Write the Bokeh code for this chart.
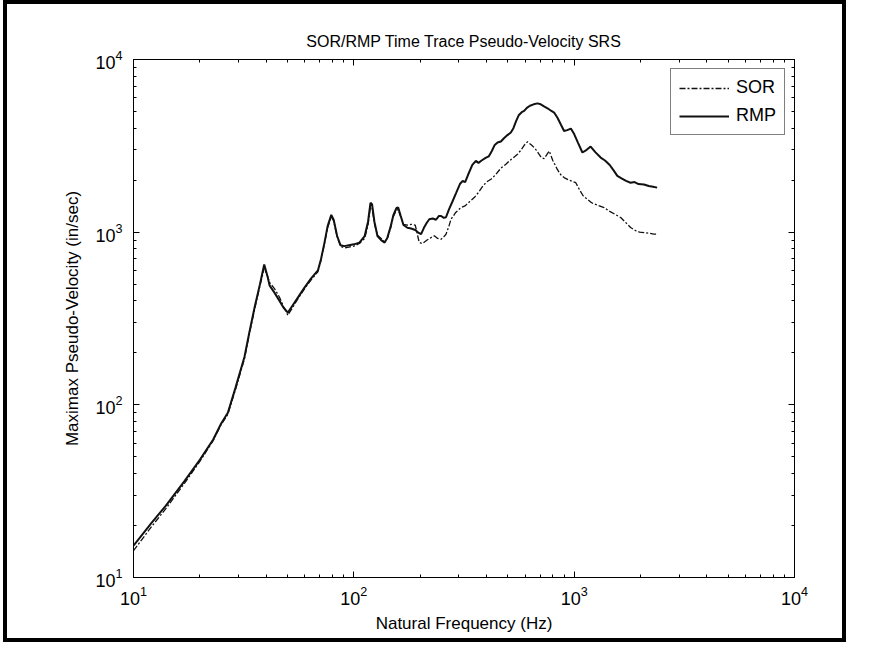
from bokeh.plotting import figure
from bokeh.models import Range1d, LogAxis, LogTicker, Legend, LegendItem
from bokeh.embed import file_html
from bokeh.resources import INLINE

# ---- data ----
rmp_freq = [10, 12, 14, 17, 20, 23, 25, 26.8, 29, 31.9, 33.5, 35.5, 37.5, 39.2, 40.5, 41.5, 43.7, 46, 48, 50.2,
            53, 55.7, 59.7, 64, 68.7, 71, 73.6, 76, 79, 81, 84, 87, 90.6, 95, 100, 106, 112, 116, 119, 121,
            124, 128, 133, 138, 142, 147, 151, 156, 159, 163, 168, 175, 182, 190, 197, 202, 208, 214, 220, 228,
            236, 243, 249, 256, 262, 270, 280, 292, 303, 312, 320, 330, 345, 358, 368, 380, 398, 410, 423, 436,
            449, 465, 480, 498, 516, 530, 545, 560, 578, 593, 610, 630, 655, 682, 705, 730, 760, 785, 811, 840,
            870, 900, 930, 966, 1000, 1040, 1090, 1140, 1188, 1250, 1319, 1380, 1450, 1510, 1570, 1640, 1720,
            1803, 1880, 1960, 2074, 2180, 2280, 2380]
rmp_vel = [15.3, 20.5, 26, 36, 48, 63, 78, 90, 125, 190, 260, 370, 500, 650, 560, 490, 445, 400, 365, 342,
           380, 418, 477, 540, 600, 700, 870, 1080, 1260, 1180, 950, 840, 830, 840, 850, 870, 950, 1150, 1480, 1450,
           1150, 950, 900, 870, 930, 1080, 1250, 1380, 1390, 1250, 1100, 1060, 1050, 1030, 990, 973, 1060, 1130, 1188, 1200,
           1180, 1240, 1241, 1210, 1220, 1350, 1500, 1700, 1900, 1982, 1950, 2150, 2450, 2588, 2520, 2600, 2700, 2750, 2950, 3200,
           3304, 3350, 3500, 3650, 3777, 4000, 4400, 4750, 4950, 5036, 5250, 5400, 5500, 5570, 5500, 5350, 5200, 5050, 4931, 4600,
           4200, 3856, 3900, 3981, 3700, 3300, 2893, 3000, 3133, 2900, 2704, 2600, 2450, 2280, 2118, 2050, 1980,
           1934, 1950, 1900, 1890, 1850, 1830, 1811]

sor_freq = [10, 12, 14, 17, 20, 23, 25, 26.8, 29, 31.9, 33.5, 35.5, 37.5, 39.2, 40.5, 41.5, 43.7, 46, 48, 50.2,
            53, 55.7, 59.7, 64, 68.7, 71, 73.6, 76, 79, 81, 84, 87, 90.6, 95, 100, 106, 112, 116, 119, 121,
            124, 128, 133, 138, 142, 147, 151, 156, 159, 163, 168, 175, 182, 190, 195, 198, 205, 215, 224, 232,
            240, 249, 256, 262, 270, 276, 290, 306, 320, 335, 352, 368, 385, 400, 419, 440, 465, 490, 510, 530,
            553, 575, 595, 614, 640, 665, 690, 710, 731, 750, 771, 800, 840, 870, 900, 950, 1017, 1060, 1100, 1148,
            1200, 1280, 1367, 1450, 1530, 1626, 1710, 1803, 1900, 1980, 2074, 2200, 2300, 2380]
sor_vel = [14.3, 19.5, 25, 35, 47, 62, 77, 88, 122, 185, 255, 360, 490, 620, 560, 510, 470, 420, 370, 330,
           370, 410, 470, 530, 590, 690, 860, 1060, 1230, 1160, 940, 830, 810, 820, 830, 860, 920, 1100, 1400, 1380,
           1120, 960, 920, 880, 920, 1060, 1230, 1340, 1350, 1230, 1110, 1100, 1110, 1100, 950, 871, 860, 900, 930, 952,
           920, 910, 940, 973, 1080, 1188, 1300, 1387, 1420, 1500, 1586, 1700, 1850, 1950, 2024, 2150, 2350, 2473, 2600, 2700,
           2825, 3000, 3200, 3337, 3200, 3050, 2850, 2700, 2667, 2800, 2951, 2600, 2300, 2150, 2070, 2000, 1934, 1750, 1620, 1552,
           1480, 1430, 1387, 1320, 1270, 1216, 1140, 1064, 1020, 1000, 995, 985, 975, 973]

title_text = "SOR/RMP Time Trace Pseudo-Velocity SRS"
x_label = "Natural Frequency (Hz)"
y_label = "Maximax Pseudo-Velocity (in/sec)"
series_names = ["SOR", "RMP"]

FONT = "Liberation Sans"
INK = "#111111"

# outer box: 4px CSS border; whole page stays within 870x666
p = figure(width=843, height=642, x_axis_type="log", y_axis_type="log",
           x_range=Range1d(10, 10000), y_range=Range1d(10, 10000),
           output_backend="svg", toolbar_location=None,
           min_border_left=126, min_border_right=56, min_border_top=55, min_border_bottom=69,
           styles={"border": "4px solid black", "margin-left": "3px"})

p.title.text = title_text
p.title.align = "center"
p.title.text_font = FONT
p.title.text_font_size = "16px"
p.title.text_font_style = "normal"
p.title.text_color = "black"
p.title.offset = 0
p.title.standoff = 20

p.xgrid.visible = False
p.ygrid.visible = False
p.outline_line_color = "black"
p.outline_line_width = 1
p.background_fill_color = "white"
p.border_fill_color = "white"


def style_axis(ax, labels=True):
    ax.ticker = LogTicker(mantissas=[1], num_minor_ticks=10)
    ax.axis_line_color = "black"
    ax.major_tick_in = 6
    ax.major_tick_out = 0
    ax.minor_tick_in = 3
    ax.minor_tick_out = 0
    ax.major_tick_line_color = "black"
    ax.minor_tick_line_color = "black"
    ax.major_label_text_font = FONT
    ax.major_label_text_font_size = "18px"
    ax.major_label_text_color = "black"
    ax.axis_label_text_font = FONT
    ax.axis_label_text_font_size = "17px"
    ax.axis_label_text_font_style = "normal"
    ax.axis_label_text_color = "black"
    if not labels:
        ax.major_label_text_color = None


style_axis(p.xaxis[0])
style_axis(p.yaxis[0])
p.xaxis[0].axis_label = x_label
p.yaxis[0].axis_label = y_label
p.xaxis[0].major_label_standoff = 8
p.xaxis[0].axis_label_standoff = 6
p.yaxis[0].major_label_standoff = 11
p.yaxis[0].axis_label_standoff = 10

top_ax = LogAxis()
right_ax = LogAxis()
style_axis(top_ax, labels=False)
style_axis(right_ax, labels=False)
p.add_layout(top_ax, "above")
p.add_layout(right_ax, "right")

r_sor = p.line(sor_freq, sor_vel, line_color=INK, line_width=1.3, line_dash="6 2 2 2")
r_rmp = p.line(rmp_freq, rmp_vel, line_color=INK, line_width=2)

legend = Legend(items=[LegendItem(label=series_names[0], renderers=[r_sor]),
                       LegendItem(label=series_names[1], renderers=[r_rmp])],
                location="top_right")
legend.margin = 9
legend.padding = 8
legend.spacing = 7
legend.glyph_width = 50
legend.glyph_height = 18
legend.label_standoff = 7
legend.label_text_font = FONT
legend.label_text_font_size = "18px"
legend.label_text_color = "black"
legend.border_line_color = "black"
legend.border_line_width = 1
legend.background_fill_alpha = 1
p.add_layout(legend, "center")

open("out.html", "w").write(file_html(p, INLINE))
